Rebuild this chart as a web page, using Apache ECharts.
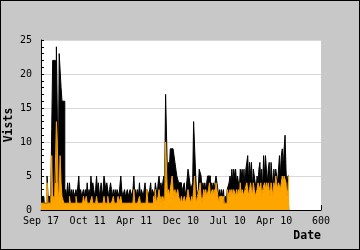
<!DOCTYPE html>
<html>
<head>
<meta charset="utf-8">
<script src="https://cdn.jsdelivr.net/npm/echarts@6/dist/echarts.min.js"></script>
<style>
html,body{margin:0;padding:0;background:#c8c8c8;}
#c{width:358px;height:248px;border:1px solid #000;}
</style>
</head>
<body>
<div id="c"></div>
<script>
// x tick labels (one per 100 samples)
const xLabels = ['Sep 17','Oct 11','Apr 11','Dec 10','Jul 10','Apr 10','600'];
// sample spacing along the x axis
const sampleStep = 2;
// Visits (black area)
const visits = [
 2,2,2,2,1,1,1,5,2,2,
 2,2,12,22,22,22,4,24,24,4,
 23,23,18,16,16,16,2,3,2,4,
 2,4,2,3,2,3,2,2,3,2,
 2,5,2,3,2,2,3,2,3,2,
 4,2,3,2,5,3,4,3,2,3,
 5,3,4,2,3,4,2,3,5,4,
 3,4,4,2,3,4,3,2,3,2,
 3,2,3,3,2,2,5,3,2,2,
 3,2,2,3,2,2,3,2,2,3,
 5,2,3,2,3,2,4,2,3,3,
 2,3,4,2,3,2,2,3,4,2,
 3,3,2,4,3,2,4,5,3,4,
 3,4,5,4,17,17,5,7,6,9,
 9,9,9,8,7,6,5,5,4,4,
 4,2,3,3,4,2,3,3,6,6,
 4,3,3,4,13,13,6,3,2,3,
 6,6,5,3,4,3,4,3,4,5,
 5,5,3,4,3,4,3,4,5,5,
 3,2,3,2,3,2,3,1,2,1,
 3,3,4,5,4,6,4,6,5,6,
 4,5,5,3,6,5,6,4,6,3,
 6,7,8,4,7,5,7,3,6,5,
 5,3,5,4,6,7,4,6,3,8,
 5,8,6,4,6,7,3,7,5,3,
 6,4,6,5,4,6,8,5,8,9,
 6,9,11,6,3,5,5
];
// Unique visitors (orange area)
const uniques = [
 1,1,1,1,1,1,1,4,1,1,
 1,1,8,1,2,1,1,13,10,1,
 3,8,4,2,2,1,1,1,1,1,
 1,2,1,1,1,1,1,1,2,1,
 1,1,1,1,1,1,2,1,1,2,
 1,1,1,1,1,2,1,1,1,1,
 2,1,1,1,1,1,1,1,2,1,
 1,1,2,1,1,1,1,1,2,1,
 1,1,1,2,1,1,2,1,1,1,
 1,1,1,1,1,1,1,1,1,1,
 3,1,1,1,1,1,2,1,1,1,
 1,1,1,1,3,1,1,1,1,1,
 1,2,1,3,1,1,2,3,1,2,
 1,2,2,1,10,10,2,3,2,3,
 4,5,3,2,3,2,2,3,2,2,
 1,2,1,1,2,1,1,2,3,2,
 2,1,2,1,3,5,2,1,2,2,
 3,4,2,1,2,3,2,3,2,2,
 3,4,2,2,3,2,3,2,4,3,
 2,1,2,2,2,1,2,1,1,1,
 3,3,2,3,2,3,2,3,3,2,
 3,2,3,2,4,2,3,3,2,3,
 3,4,4,2,3,4,3,2,4,3,
 2,2,3,4,4,3,4,2,3,3,
 4,3,4,3,4,3,2,4,3,2,
 4,3,5,4,3,4,4,3,4,5,
 4,5,5,4,2,3,5
];

const toPairs = arr => arr.map((v, i) => [i * sampleStep, v]);
const mono = '"DejaVu Sans Mono", monospace';

const chart = echarts.init(document.getElementById('c'), null, {renderer: 'canvas'});
chart.setOption({
  animation: false,
  backgroundColor: '#c8c8c8',
  grid: {left: 40, right: 38, top: 39, bottom: 39, show: true, backgroundColor: '#ffffff', borderWidth: 0, containLabel: false, outerBoundsMode: 'none'},
  xAxis: {
    type: 'value', min: 0, max: 600, interval: 100,
    name: 'Date', nameLocation: 'end', nameGap: 0, nameMoveOverlap: false,
    nameTextStyle: {fontFamily: mono, fontWeight: 'bold', fontSize: 11.5, color: '#000', align: 'right', verticalAlign: 'top', padding: [20, 0, 0, 0]},
    axisLine: {show: true, lineStyle: {color: '#000', width: 1}},
    axisTick: {show: true, inside: true, length: 5, lineStyle: {color: '#000'}},
    axisLabel: {fontFamily: mono, fontSize: 10, color: '#000', margin: 6, formatter: (v) => xLabels[Math.round(v / 100)]},
    splitLine: {show: false}
  },
  yAxis: {
    type: 'value', min: 0, max: 25, interval: 5,
    name: 'Vists', nameLocation: 'middle', nameGap: 26, nameRotate: 90, nameMoveOverlap: false,
    nameTextStyle: {fontFamily: mono, fontWeight: 'bold', fontSize: 11.5, color: '#000'},
    axisLine: {show: true, lineStyle: {color: '#000', width: 1}},
    axisTick: {show: true, inside: true, length: 3, lineStyle: {color: '#000'}},
    minorTick: {show: true, splitNumber: 5, length: 3, lineStyle: {color: '#000'}},
    axisLabel: {fontFamily: mono, fontSize: 10, color: '#000', margin: 9},
    splitLine: {show: true, lineStyle: {color: '#d9d9d9', width: 1}}
  },
  series: [
    {
      type: 'line', data: toPairs(visits), showSymbol: false, step: 'middle',
      lineStyle: {color: '#000', width: 1},
      areaStyle: {color: '#000', opacity: 1}
    },
    {
      type: 'line', data: toPairs(uniques), showSymbol: false, step: 'middle',
      lineStyle: {color: '#ffa500', width: 1},
      areaStyle: {color: '#ffa500', opacity: 1}
    }
  ]
});
</script>
</body>
</html>
